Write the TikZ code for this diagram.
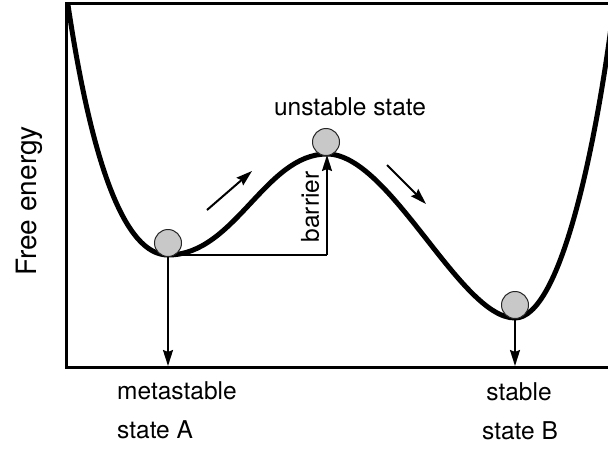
\documentclass[tikz,border=0pt]{standalone}
\usepackage{fontspec}
\setmainfont{TeX Gyre Heros}
\usepackage{tikz}
\usetikzlibrary{arrows.meta}
\definecolor{ballgray}{RGB}{200, 200, 200}

\begin{document}
\begin{tikzpicture}[x=1pt, y=-1pt,
    lbl/.style={font=\fontsize{24.5}{29}\selectfont, inner sep=0pt},
    ball/.style={circle, draw=black!85, line width=1pt, fill=ballgray, minimum size=27pt, inner sep=0pt},
    arr/.style={-{Stealth[length=16pt, width=10pt, inset=2pt]}, line width=2pt}]
    \useasboundingbox (0,0) rectangle (608,450);
    \clip (0,0) rectangle (608,450);

    % Frame
    \draw[line width=3pt] (612,3) -- (66,3) -- (66,367) -- (612,367);

    % Free energy curve
    \draw[line width=5pt] (68,5) .. controls (92,165) and (125,255) .. (168,255)
        .. controls (235,255) and (265,154) .. (327,154)
        .. controls (390,154) and (460,318) .. (515,318)
        .. controls (560,318) and (595,150) .. (612,20);

    % Points on the curve
    \coordinate (minA) at (168,255);
    \coordinate (top) at (327,155);
    \coordinate (minB) at (515,318);
    \coordinate (axisA) at (168,366);
    \coordinate (axisB) at (515,366);
    \coordinate (base) at (327,255);

    % Projections and barrier height
    \draw[arr] (minA) -- (axisA);
    \draw[arr] (minB) -- (axisB);
    \draw[line width=2pt] (minA) -- (base);
    \draw[arr] (base) -- (top);

    % Direction of motion
    \coordinate (upS) at (207,210);
    \coordinate (upE) at (252,171);
    \coordinate (dnS) at (387,165);
    \coordinate (dnE) at (426,204);
    \draw[arr] (upS) -- (upE);
    \draw[arr] (dnS) -- (dnE);

    % Balls
    \node[ball] (ballA) at (168,243) {};
    \node[ball] (ballT) at (326,142) {};
    \node[ball] (ballB) at (515,305) {};

    % Labels
    \node[lbl, font=\fontsize{28}{34}\selectfont, rotate=90] (ylab) at (29,201) {Free energy};
    \node[lbl] (toplab) at (350,107) {unstable state};
    \node[lbl, rotate=90] (barlab) at (310,207) {barrier};
    \node[lbl, anchor=west] (alab1) at (117,391) {metastable};
    \node[lbl, anchor=west] (alab2) at (117,430) {state A};
    \node[lbl] (blab1) at (519,392) {stable};
    \node[lbl] (blab2) at (520,431) {state B};
\end{tikzpicture}
\end{document}
